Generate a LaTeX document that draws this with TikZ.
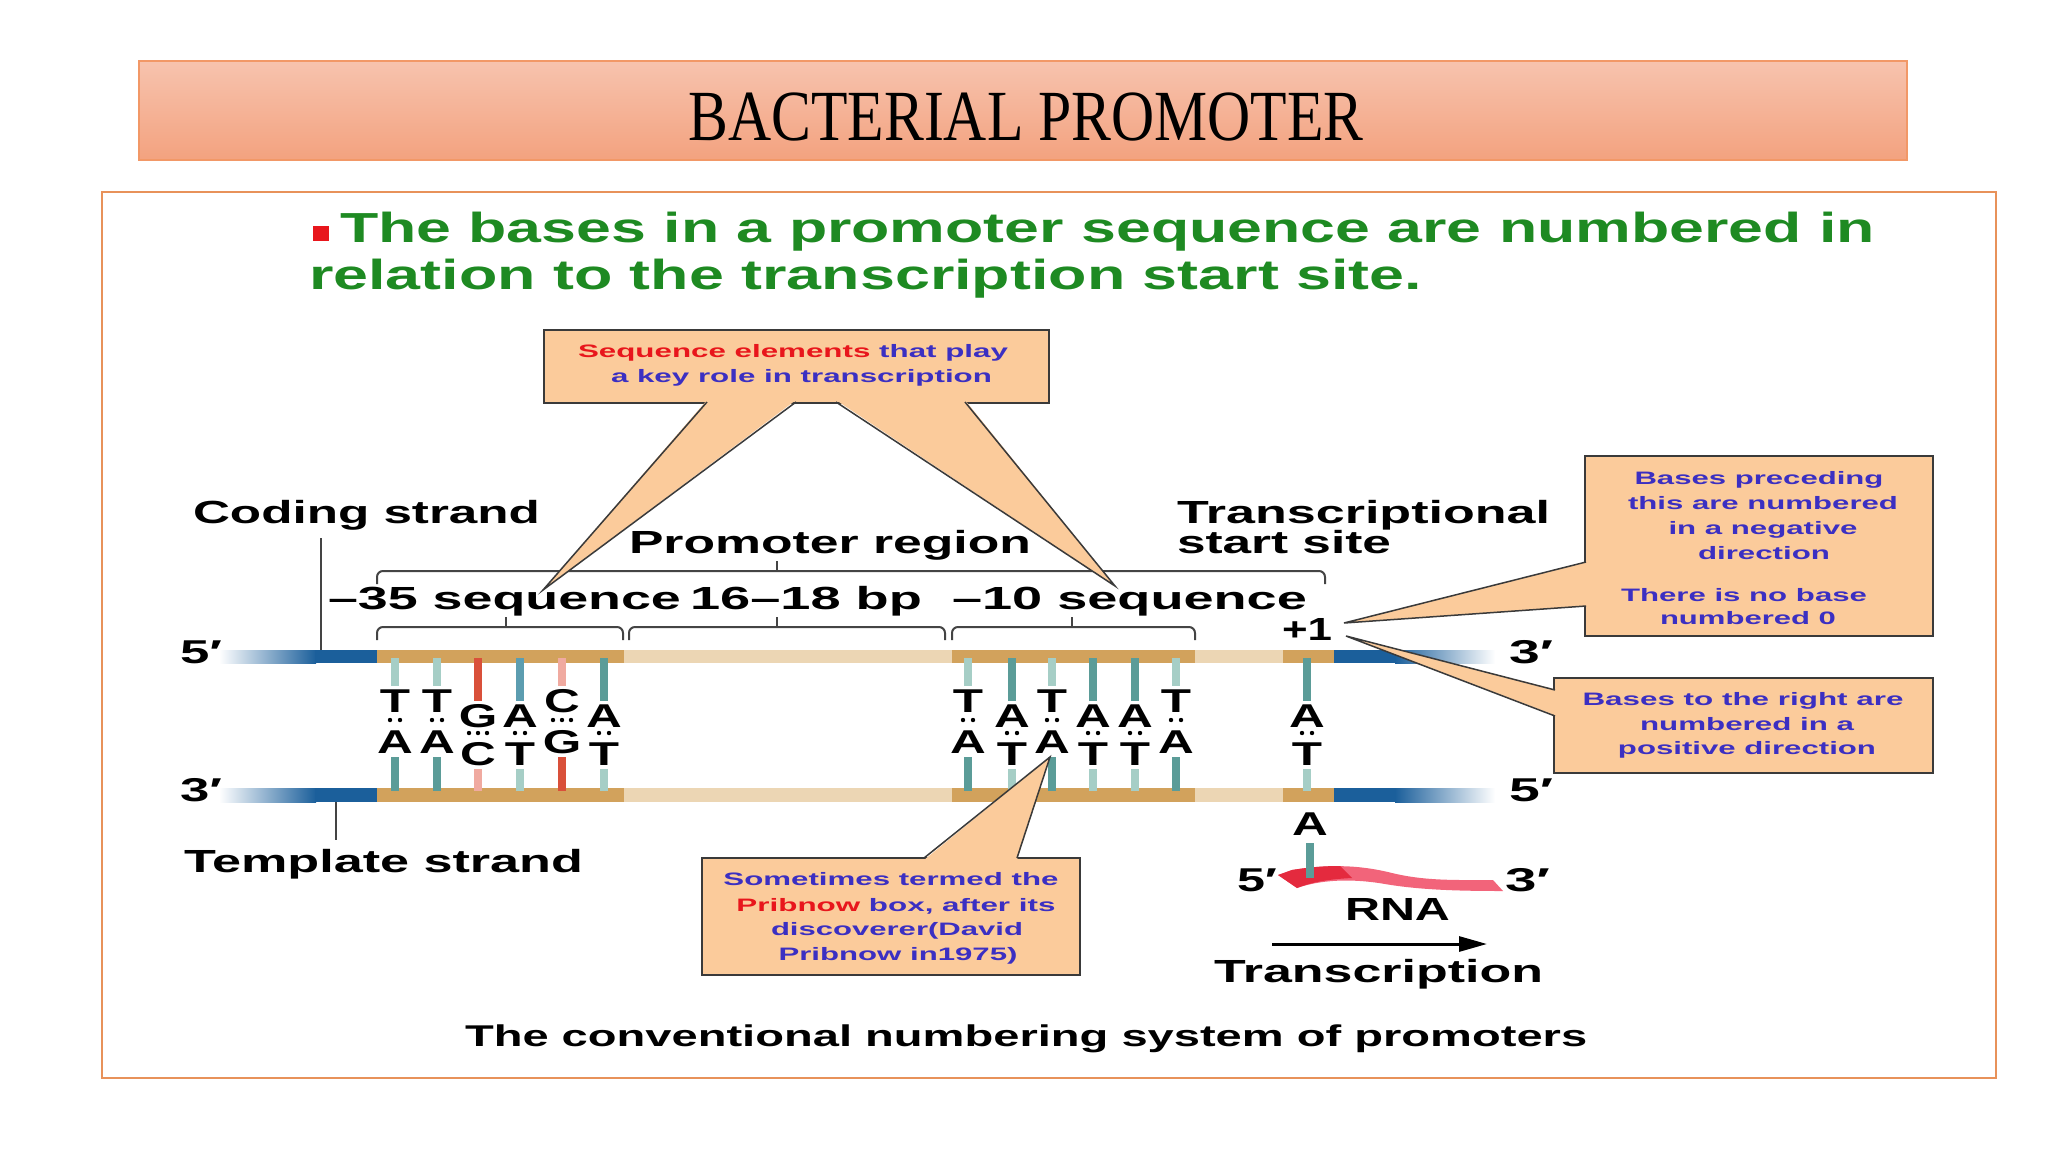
\documentclass[tikz,border=0pt]{standalone}
\usepackage{fontspec}
\setmainfont{Liberation Sans}
\newfontfamily\serifx{Liberation Serif}
\usepackage{graphicx}
\usetikzlibrary{arrows.meta}
\definecolor{titletop}{HTML}{F7C3AE}
\definecolor{titlebot}{HTML}{F3A27F}
\definecolor{titleedge}{HTML}{F29867}
\definecolor{frameedge}{HTML}{E8925A}
\definecolor{headgreen}{HTML}{1E8A22}
\definecolor{calfill}{HTML}{FBCB9B}
\definecolor{caledge}{HTML}{3A3A3A}
\definecolor{calblue}{HTML}{3B2FC2}
\definecolor{calred}{HTML}{E8161C}
\definecolor{gold}{HTML}{D2A25C}
\definecolor{tanx}{HTML}{ECD6B4}
\definecolor{dblue}{HTML}{1B5F9B}
\definecolor{tealD}{HTML}{5B9C98}
\definecolor{tealL}{HTML}{A6CEC6}
\definecolor{tealB}{HTML}{5C9DB0}
\definecolor{barred}{HTML}{D9503A}
\definecolor{barpink}{HTML}{F0AAA0}
\definecolor{rnared}{HTML}{E42A3E}
\definecolor{rnapink}{HTML}{F2647A}
\definecolor{brk}{HTML}{444444}
\newcommand\Wd[2]{\resizebox{#1pt}{\height}{#2}}
\newcommand\BL[1]{\scalebox{1.5}[1]{#1}}
\newcommand\fbig{\fontsize{32}{38}\selectfont\bfseries}
\newcommand\fbase{\fontsize{33}{40}\selectfont\bfseries}
\newcommand\fcal{\fontsize{18}{22}\selectfont\bfseries}
\newcommand\fhead{\fontsize{42}{48}\selectfont\bfseries}
\newcommand\fcap{\fontsize{30}{36}\selectfont\bfseries}
\newcommand\fprime{\fontsize{33}{38}\selectfont\bfseries}
\newcommand\cred[1]{\textcolor{calred}{#1}}
\begin{document}
\begin{tikzpicture}[x=1pt,y=-1pt,
  lab/.style={inner sep=0pt, outer sep=0pt, anchor=base west, font=\fbig},
  labc/.style={inner sep=0pt, outer sep=0pt, anchor=base, font=\fbig},
  calt/.style={inner sep=0pt, outer sep=0pt, anchor=base, font=\fcal, text=calblue},
  calbox/.style={draw=caledge, fill=calfill, line width=1.8pt, inner sep=0pt},
  calptr/.style={draw=caledge, line width=1.5pt, line join=miter},
  bracket/.style={draw=brk, line width=2pt, rounded corners=6pt},
  baseL/.style={inner sep=0pt, outer sep=0pt, anchor=base, font=\fbase}]
\useasboundingbox (0,0) rectangle (2048,1152);
\fill[white] (0,0) rectangle (2048,1152);

% title
\node[draw=titleedge, line width=1.5pt, top color=titletop, bottom color=titlebot,
      minimum width=1768pt, minimum height=99pt, inner sep=0pt] (titlebox) at (1023,110.5) {};
\node[inner sep=0pt, anchor=base, font=\serifx\fontsize{72}{80}\selectfont] (title) at (1026,140)
  {\Wd{675}{BACTERIAL PROMOTER}};

% frame
\node[draw=frameedge, line width=2pt, minimum width=1894pt, minimum height=886pt, inner sep=0pt]
  (frame) at (1049,635) {};

% heading
\fill[calred] (313,226) rectangle (329,241);
\node[lab, font=\fhead, text=headgreen] (head1) at (340,242)
  {\Wd{1535}{The bases in a promoter sequence are numbered in}};
\node[lab, font=\fhead, text=headgreen] (head2) at (309,289)
  {\Wd{1113}{relation to the transcription start site.}};

% strands
\foreach \ya/\yb in {650/663, 788/802}{
  \shade[left color=white, right color=dblue] (219,\ya) rectangle (316,\yb);
  \fill[dblue] (315,\ya) rectangle (377,\yb);
  \fill[gold] (377,\ya) rectangle (624,\yb);
  \fill[tanx] (624,\ya) rectangle (952,\yb);
  \fill[gold] (952,\ya) rectangle (1195,\yb);
  \fill[tanx] (1195,\ya) rectangle (1283,\yb);
  \fill[gold] (1283,\ya) rectangle (1334,\yb);
  \fill[dblue] (1334,\ya) rectangle (1396,\yb);
  \shade[left color=dblue, right color=white] (1395,\ya) rectangle (1495,\yb);
}

% base pairs
\foreach \n/\x/\tl/\bl/\ty/\by/\dy/\te/\bs/\ct/\cb/\nd in {
1/395/T/A/712/753/720/686/757/tealL/tealD/2,
2/437/T/A/712/753/720/686/757/tealL/tealD/2,
3/478/G/C/727/765/733/701/769/barred/barpink/3,
4/520/A/T/727/765/733/701/769/tealB/tealL/2,
5/562/C/G/712/753/720/686/757/barpink/barred/3,
6/604/A/T/727/765/733/701/769/tealD/tealL/2,
7/968/T/A/712/753/720/686/757/tealL/tealD/2,
8/1012/A/T/727/765/733/701/769/tealD/tealL/2,
9/1052/T/A/712/753/720/686/757/tealL/tealD/2,
10/1093/A/T/727/765/733/701/769/tealD/tealL/2,
11/1135/A/T/727/765/733/701/769/tealD/tealL/2,
12/1176/T/A/712/753/720/686/757/tealL/tealD/2,
13/1307/A/T/727/765/733/701/769/tealD/tealL/2}{
  \draw[line width=8pt, \ct] (\x,658) -- (\x,\te);
  \draw[line width=8pt, \cb] (\x,\bs) -- (\x,791);
  \node[baseL] (t\n) at (\x,\ty) {\BL{\tl}};
  \node[baseL] (b\n) at (\x,\by) {\BL{\bl}};
  \ifnum\nd=2
    \fill (\x-5,\dy) circle (2.2) (\x+5,\dy) circle (2.2);
  \else
    \fill (\x-9,\dy) circle (2.2) (\x,\dy) circle (2.2) (\x+9,\dy) circle (2.2);
  \fi
}

% brackets
\draw[bracket] (377,584) |- (1325,571) -- (1325,584);
\draw[draw=brk, line width=2pt] (777,571) -- (777,561);
\draw[bracket] (377,640) |- (623,627) -- (623,640);
\draw[draw=brk, line width=2pt] (506,627) -- (506,617);
\draw[bracket] (629,640) |- (945,627) -- (945,640);
\draw[draw=brk, line width=2pt] (777,627) -- (777,617);
\draw[bracket] (952,640) |- (1195,627) -- (1195,640);
\draw[draw=brk, line width=2pt] (1072,627) -- (1072,617);

% strand labels
\node[lab] (coding) at (193,523) {\Wd{347}{Coding strand}};
\coordinate (codingfoot) at (321,650);
\draw[line width=2pt, brk] (321,538) -- (codingfoot);
\node[lab] (template) at (184,872) {\Wd{399}{Template strand}};
\coordinate (templatetop) at (336,802);
\draw[line width=2pt, brk] (templatetop) -- (336,840);
\node[lab] (promreg) at (629,553) {\Wd{402}{Promoter region}};
\node[lab] (m35) at (328,609) {\Wd{353}{–35 sequence}};
\node[lab] (spacer) at (690,609) {\Wd{232}{16–18 bp}};
\node[lab] (m10) at (952,609) {\Wd{355}{–10 sequence}};
\node[lab] (tss1) at (1177,523) {\Wd{373}{Transcriptional}};
\node[lab] (tss2) at (1177,553) {\Wd{214}{start site}};
\node[lab] (plus1) at (1282,640) {\Wd{50}{+1}};
\node[lab, font=\fprime] (l5) at (180,663) {\Wd{42}{5′}};
\node[lab, font=\fprime] (l3) at (180,801) {\Wd{42}{3′}};
\node[lab, font=\fprime] (r3) at (1509,663) {\Wd{44}{3′}};
\node[lab, font=\fprime] (r5) at (1509,801) {\Wd{44}{5′}};

% RNA
\node[baseL] (rnaA) at (1310,835) {\BL{A}};
\fill[rnapink] (1278,875) -- (1292,870) .. controls (1330,864) and (1360,865) .. (1392,873)
   .. controls (1425,881) and (1455,880) .. (1493,880) -- (1503,891)
   .. controls (1460,891) and (1420,890) .. (1385,884)
   .. controls (1350,878) and (1320,880) .. (1297,888) -- cycle;
\fill[rnared] (1278,875) -- (1292,870) .. controls (1310,867) and (1325,866) .. (1340,866)
   -- (1352,878) .. controls (1330,879) and (1312,882) .. (1297,888) -- cycle;
\draw[line width=8pt, tealD] (rnaA.south) ++(0,8) -- (1310,878);
\node[lab, font=\fprime] (rna5) at (1237,891) {\Wd{40}{5′}};
\node[lab, font=\fprime] (rna3) at (1505,891) {\Wd{45}{3′}};
\node[lab] (rnalab) at (1345,920) {\Wd{105}{RNA}};
\coordinate (arrS) at (1272,944);
\coordinate (arrE) at (1487,944);
\draw[line width=3pt, -{Triangle[length=28pt,width=15pt]}] (arrS) -- (arrE);
\node[lab] (transcr) at (1214,982) {\Wd{329}{Transcription}};

% caption
\node[lab, font=\fcap] (caption) at (465,1046) {\Wd{1122}{The conventional numbering system of promoters}};

% callout 1 : sequence elements
\node[calbox, minimum width=505pt, minimum height=73pt] (box1) at (796.5,366.5) {};
\coordinate (tip35) at (543,590);
\coordinate (tip10) at (1115,586);
\fill[calfill] (707,400) -- (tip35) -- (796,400) -- cycle;
\fill[calfill] (836,400) -- (tip10) -- (965,400) -- cycle;
\draw[calptr] (707,402) -- (tip35) -- (796,402);
\draw[calptr] (836,402) -- (tip10) -- (965,402);
\node[calt, anchor=base west] (box1a) at (578,357) {\Wd{430}{\cred{Sequence elements} that play}};
\node[calt, anchor=base west] (box1b) at (611,382) {\Wd{381}{a key role in transcription}};

% callout A : negative direction
\node[calbox, minimum width=348pt, minimum height=180pt] (boxA) at (1759,546) {};
\coordinate (tipA) at (1344,623);
\fill[calfill] (1588,562) -- (tipA) -- (1588,606) -- cycle;
\draw[calptr] (1586,562) -- (tipA) -- (1586,606);
\node[calt] (boxA1) at (1759,484) {\Wd{249}{Bases preceding}};
\node[calt] (boxA2) at (1763,509) {\Wd{270}{this are numbered}};
\node[calt] (boxA3) at (1763,534) {\Wd{189}{in a negative}};
\node[calt] (boxA4) at (1764,559) {\Wd{132}{direction}};
\node[calt] (boxA5) at (1744,601) {\Wd{246}{There is no base}};
\node[calt] (boxA6) at (1748,624) {\Wd{176}{numbered 0}};

% callout B : positive direction
\node[calbox, minimum width=379pt, minimum height=95pt] (boxB) at (1743.5,725.5) {};
\coordinate (tipB) at (1346,636);
\fill[calfill] (1557,690) -- (tipB) -- (1557,716) -- cycle;
\draw[calptr] (1555,690) -- (tipB) -- (1555,716);
\node[calt] (boxB1) at (1743,705) {\Wd{321}{Bases to the right are}};
\node[calt] (boxB2) at (1747,730) {\Wd{214}{numbered in a}};
\node[calt] (boxB3) at (1747,754) {\Wd{258}{positive direction}};

% callout C : Pribnow box
\node[calbox, minimum width=378pt, minimum height=117pt] (boxC) at (891,916.5) {};
\coordinate (tipC) at (1050,757);
\fill[calfill] (924,860) -- (tipC) -- (1017,860) -- cycle;
\draw[calptr] (924,858) -- (tipC) -- (1017,858);
\node[calt] (boxC1) at (891,885) {\Wd{335}{Sometimes termed the}};
\node[calt] (boxC2) at (896,911) {\Wd{319}{\cred{Pribnow} box, after its}};
\node[calt] (boxC3) at (897,935) {\Wd{252}{discoverer(David}};
\node[calt] (boxC4) at (898,960) {\Wd{239}{Pribnow in1975)}};
\end{tikzpicture}
\end{document}
